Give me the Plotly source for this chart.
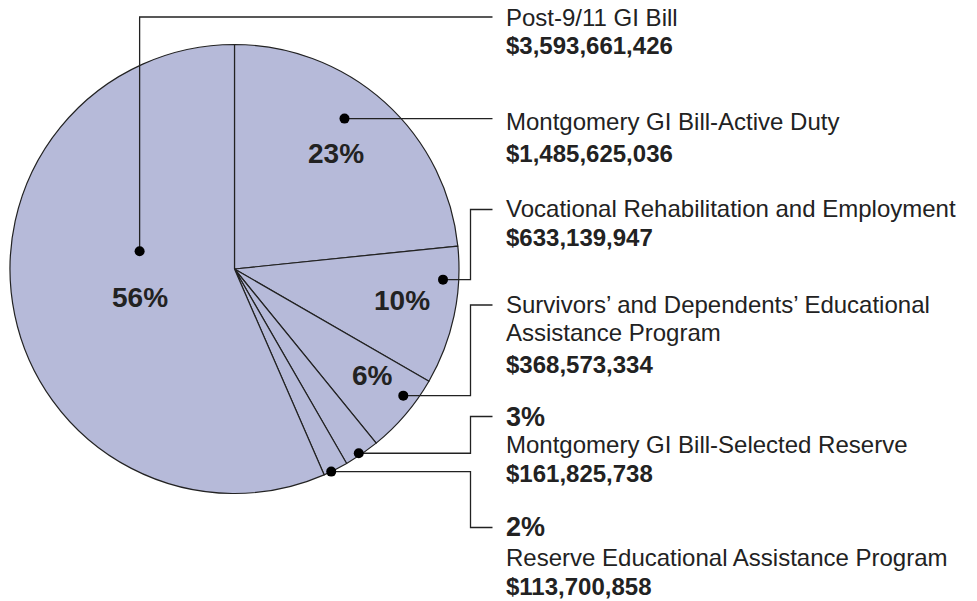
import math
import plotly.graph_objects as go

# Data (clockwise from 12 o'clock)
programs = ['Montgomery GI Bill-Active Duty', 'Vocational Rehabilitation and Employment',
            "Survivors' and Dependents' Educational Assistance Program",
            'Montgomery GI Bill-Selected Reserve', 'Reserve Educational Assistance Program',
            'Post-9/11 GI Bill']
amounts = [1485625036, 633139947, 368573334, 161825738, 113700858, 3593661426]
pct_labels = ['23%', '10%', '6%', '3%', '2%', '56%']

W, H = 977, 601
CX, CY, R = 234.5, 269, 224.5
FILL = '#b6bad9'
INK = '#222222'
FONT = 'Liberation Sans, Arial, sans-serif'


def px(x):
    return x / W


def py(y):
    return 1 - y / H


# slice angles (degrees clockwise from top) from the data
total = sum(amounts)
starts, spans = [], []
acc = 0
for v in amounts:
    starts.append(acc / total * 360)
    spans.append(v / total * 360)
    acc += v


def polar(i, t, rho):
    a = math.radians(starts[i] + t * spans[i])
    return CX + rho * R * math.sin(a), CY - rho * R * math.cos(a)


fig = go.Figure(go.Pie(
    values=amounts, labels=programs, sort=False, direction='clockwise', rotation=0,
    textinfo='none', hoverinfo='label+value+percent', showlegend=False,
    marker=dict(colors=[FILL] * len(amounts), line=dict(color=INK, width=1.2)),
    domain=dict(x=[px(CX - R), px(CX + R)], y=[py(CY + R), py(CY - R)]),
))

shapes, annotations = [], []

# percent labels inside the pie: (slice, fraction through slice, radius fraction)
for i, t, rho in [(0, 0.49, 0.685), (1, 0.46, 0.76), (2, 0.37, 0.775), (5, 0.475, 0.44)]:
    x, y = polar(i, t, rho)
    annotations.append(dict(x=px(x), y=py(y), xref='paper', yref='paper', text=f'<b>{pct_labels[i]}</b>',
                            xanchor='center', yanchor='middle', showarrow=False,
                            font=dict(size=28, color=INK, family=FONT)))

# leader dots: (slice, fraction through slice, radius fraction)
dots = {5: (0.61, 0.43), 0: (0.43, 0.83), 1: (0.245, 0.93), 2: (0.33, 0.94), 3: (0.56, 0.99), 4: (0.69, 1.0)}
# leader path targets: label line y
line_y = {5: 17, 0: None, 1: 209.5, 2: 305, 3: 416.5, 4: 527.5}
ELBOW, END = 470.5, 492.5

for i, (t, rho) in dots.items():
    x, y = polar(i, t, rho)
    if i == 5:
        pts = [(x, y), (x, line_y[i]), (END, line_y[i])]
    elif i == 0:
        pts = [(x, y), (END, y)]
    else:
        pts = [(x, y), (ELBOW, y), (ELBOW, line_y[i]), (END, line_y[i])]
    path = 'M ' + ' L '.join(f'{px(a):.5f},{py(b):.5f}' for a, b in pts)
    shapes.append(dict(type='path', path=path, xref='paper', yref='paper',
                       line=dict(color=INK, width=1.3), layer='above'))
    shapes.append(dict(type='circle', xref='paper', yref='paper', xsizemode='pixel', ysizemode='pixel',
                       xanchor=px(x), yanchor=py(y), x0=-5, x1=5, y0=-5, y1=5,
                       fillcolor='black', line=dict(width=0), layer='above'))

# right-hand label blocks: list of (text, y center, kind)
TX = 504
blocks = [
    [('Post-9/11 GI Bill', 17.5, 'n'), (f'${amounts[5]:,}', 45.5, 'a')],
    [('Montgomery GI Bill-Active Duty', 121.5, 'n'), (f'${amounts[0]:,}', 153.5, 'a')],
    [('Vocational Rehabilitation and Employment', 208.5, 'n'), (f'${amounts[1]:,}', 237.5, 'a')],
    [("Survivors' and Dependents' Educational", 304.5, 'n'), ('Assistance Program', 332.5, 'n'),
     (f'${amounts[2]:,}', 364.5, 'a')],
    [(pct_labels[3], 417, 'p'), ('Montgomery GI Bill-Selected Reserve', 444.5, 'n'),
     (f'${amounts[3]:,}', 473.5, 'a')],
    [(pct_labels[4], 527, 'p'), ('Reserve Educational Assistance Program', 557.5, 'n'),
     (f'${amounts[4]:,}', 586.5, 'a')],
]
for block in blocks:
    for text, y, kind in block:
        size = 27 if kind == 'p' else 24
        txt = text.replace("'", '\u2019') if kind == 'n' else text
        if kind != 'n':
            txt = f'<b>{txt}</b>'
        annotations.append(dict(x=px(TX), y=py(y), xref='paper', yref='paper', text=txt,
                                xanchor='left', yanchor='middle', showarrow=False,
                                font=dict(size=size, color=INK, family=FONT)))

fig.update_layout(
    width=W, height=H, margin=dict(l=0, r=0, t=0, b=0),
    paper_bgcolor='white', plot_bgcolor='white',
    shapes=shapes, annotations=annotations,
)

# drop the page's default 8px body margin so the figure fills the window
fig.write_html('out.html', config={'displayModeBar': False},
               post_script="document.body.style.margin='0';")
